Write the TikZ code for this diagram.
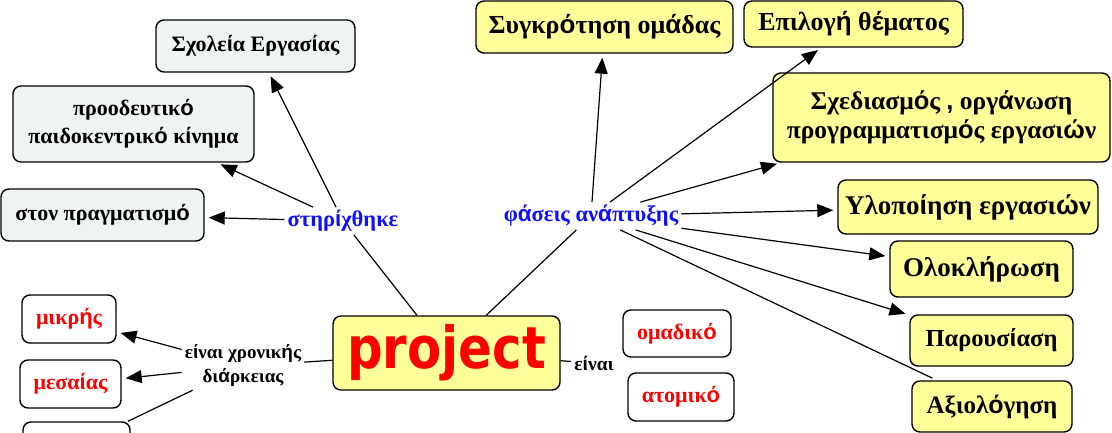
\documentclass[tikz,border=0pt]{standalone}
\usepackage{fontspec}
\setmainfont{Liberation Serif}
\newfontfamily\accf{Liberation Sans}
\newfontfamily\projf[FakeStretch=0.86]{DejaVu Sans}
\usetikzlibrary{arrows.meta}
\newcommand\ac[1]{{\accf\bfseries #1}}
\definecolor{boxyellow}{HTML}{FFFF99}
\definecolor{boxblue}{HTML}{EEF3F4}
\definecolor{lblblue}{HTML}{1010FF}
\begin{document}
\begin{tikzpicture}[x=1pt,y=-1pt,
  box/.style={draw=black, line width=1.4pt, rounded corners=8pt, inner sep=0pt, align=center,
    font=\fontsize{22}{28}\selectfont\bfseries},
  ybox/.style={box, fill=boxyellow},
  bbox/.style={box, fill=boxblue},
  wbox/.style={box, fill=white, text=red},
  lbl/.style={inner sep=3pt, align=center, font=\fontsize{19}{24}\selectfont\bfseries},
  arr/.style={-{Triangle[length=16pt,width=13pt]}, line width=1.2pt, shorten >=4pt},
  ln/.style={line width=1.2pt}]
\useasboundingbox (0,0) rectangle (1112,433);
\clip (0,0) rectangle (1112,433);

% left boxes
\node[bbox, minimum width=199pt, minimum height=52pt] (sx) at (255.5,46) {Σχολε\ac{ί}α Εργασ\ac{ί}ας};
\node[bbox, minimum width=241pt, minimum height=76pt] (pro) at (133.5,124) {προοδευτικ\ac{ό}\\παιδοκεντρικ\ac{ό} κ\ac{ί}νημα};
\node[bbox, minimum width=203pt, minimum height=52pt] (ston) at (102.5,215) {στον πραγματισμ\ac{ό}};

% central
\node[ybox, minimum width=227pt, minimum height=74pt, text=red, font=\projf\bfseries\fontsize{58}{62}\selectfont] (proj) at (446.5,353) {project};

% duration
\node[wbox, minimum width=94pt, minimum height=48pt] (mik) at (69,319) {μικρ\ac{ή}ς};
\node[wbox, minimum width=101pt, minimum height=48pt] (mes) at (70.5,384) {μεσα\ac{ί}ας};
\node[wbox, minimum width=107pt, minimum height=48pt] (bot) at (76.5,446) {};

% type
\node[wbox, minimum width=108pt, minimum height=47pt] (omad) at (677,333.5) {ομαδικ\ac{ό}};
\node[wbox, minimum width=106pt, minimum height=48pt] (atom) at (681,397) {ατομικ\ac{ό}};

% phases
\node[ybox, minimum width=257pt, minimum height=52pt, font=\fontsize{26}{30}\selectfont\bfseries] (syg) at (604.5,27) {Συγκρ\ac{ό}τηση ομ\ac{ά}δας};
\node[ybox, minimum width=219pt, minimum height=46pt, font=\fontsize{26}{30}\selectfont\bfseries] (epi) at (853.5,24) {Επιλογ\ac{ή} θ\ac{έ}ματος};
\node[ybox, minimum width=337pt, minimum height=89pt, font=\fontsize{25.5}{29}\selectfont\bfseries] (sxe) at (941.5,117.5) {Σχεδιασμ\ac{ό}ς \ac{,} οργ\ac{ά}νωση\\προγραμματισμ\ac{ό}ς εργασι\ac{ώ}ν};
\node[ybox, minimum width=260pt, minimum height=54pt, font=\fontsize{27}{30}\selectfont\bfseries] (ylo) at (968,207) {Υλοπο\ac{ί}ηση εργασι\ac{ώ}ν};
\node[ybox, minimum width=183pt, minimum height=56pt, font=\fontsize{27}{30}\selectfont\bfseries] (olo) at (981.5,269) {Ολοκλ\ac{ή}ρωση};
\node[ybox, minimum width=163pt, minimum height=51pt, font=\fontsize{24.5}{28}\selectfont\bfseries] (par) at (991.5,340.5) {Παρουσ\ac{ί}αση};
\node[ybox, minimum width=160pt, minimum height=51pt, font=\fontsize{25}{30}\selectfont\bfseries] (axi) at (992,406.5) {Αξιολ\ac{ό}γηση};

% labels
\node[lbl, text=lblblue, font=\fontsize{22.5}{26}\selectfont\bfseries] (stir) at (343,221) {στηρ\ac{ί}χθηκε};
\node[lbl, text=lblblue, font=\fontsize{22.5}{26}\selectfont\bfseries] (phas) at (591,216) {φ\ac{ά}σεις αν\ac{ά}πτυξης};
\node[lbl, font=\fontsize{19}{24}\selectfont\bfseries] (xron) at (243,366) {ε\ac{ί}ναι χρονικ\ac{ή}ς\\δι\ac{ά}ρκειας};
\node[lbl, font=\fontsize{19.5}{24}\selectfont\bfseries] (einai) at (594,363) {ε\ac{ί}ναι};

% connectors
\draw[arr] (stir) -- (sx);
\draw[arr] (stir) -- (pro);
\draw[arr] (stir) -- (ston);
\draw[ln] (stir) -- (proj);

\draw[ln] (xron) -- (proj);
\draw[arr] (xron) -- (mik);
\draw[arr] (xron) -- (mes);
\draw[ln] (xron) -- (bot);

\draw[ln] (proj) -- (einai);

\draw[ln] (phas) -- (proj);
\draw[arr] (phas) -- (syg);
\draw[arr] (phas) -- (epi);
\draw[arr] (phas) -- (sxe);
\draw[arr] (phas) -- (ylo);
\draw[arr] (phas) -- (olo);
\draw[arr] (phas) -- (par);
\draw[ln, shorten >=5pt] (phas) -- (axi);
\end{tikzpicture}
\end{document}
